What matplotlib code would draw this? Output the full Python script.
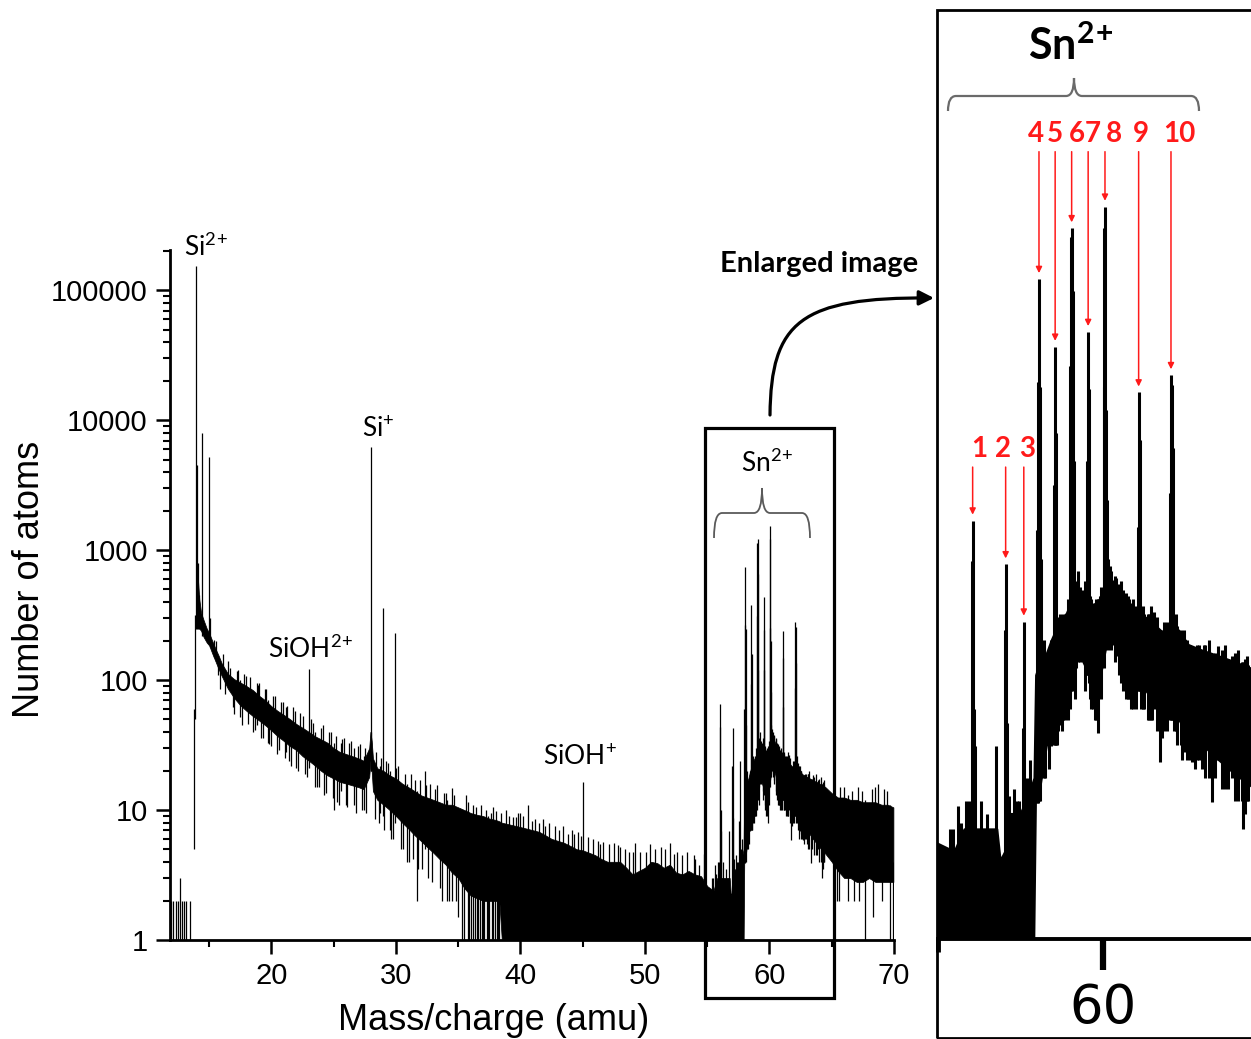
import numpy as np
import matplotlib
matplotlib.use("Agg")
import matplotlib.pyplot as plt
from matplotlib.patches import Rectangle, FancyArrowPatch, PathPatch
from matplotlib.path import Path

plt.rcParams["mathtext.default"] = "regular"

# ---------------------------------------------------------------------------
# Spectrum data (mass/charge in amu, counts)
# Background band of the mass spectrum: upper / lower edge of the noise
band_mz = [13.95, 14.05, 14.2, 14.35, 14.55, 14.8, 15.0, 15.25, 15.5, 15.75,
           16.0, 16.5, 17.0, 17.5, 18.0, 18.5, 19.0, 19.5, 20.0, 20.5,
           21.0, 21.5, 22.0, 22.5, 23.0, 23.5, 24.0, 24.5, 25.0, 25.5,
           26.0, 26.5, 27.0, 27.4, 27.85, 27.95, 28.05, 28.15, 28.5, 29.0,
           29.5, 30.0, 30.5, 31.0, 31.5, 32.0, 32.5, 33.0, 33.5, 34.0,
           34.5, 35.0, 35.5, 36.0, 36.5, 37.0, 37.5, 38.0, 38.3, 38.5,
           39.0, 39.5, 40.0, 40.5, 41.0, 41.5, 42.0, 42.5, 43.0, 43.5,
           44.0, 44.5, 45.0, 45.5, 46.0, 46.5, 47.0, 47.5, 48.0, 48.5,
           49.0, 49.5, 50.0, 50.5, 51.0, 51.5, 52.0, 52.5, 53.0, 53.5,
           54.0, 54.5, 55.0, 55.5, 55.8, 56.2, 56.8, 56.9, 57.1, 57.2,
           57.5, 57.75, 57.92, 57.97, 58.1, 58.3, 58.45, 58.7, 58.9, 59.2,
           59.4, 59.7, 59.9, 60.2, 60.45, 60.7, 60.95, 61.3, 61.6, 61.9,
           62.3, 62.6, 63.0, 63.5, 64.0, 64.5, 65.0, 65.5, 66.0, 66.5,
           67.0, 67.5, 68.0, 68.5, 69.0, 69.5, 69.95]
band_hi = [900, 700, 420, 330, 290, 250, 230, 200, 175, 155,
           135, 112, 102, 96, 90, 84, 76, 70, 63, 58,
           54, 50, 46, 43, 40, 37, 35, 33, 30, 28,
           27, 26, 25, 24, 30, 40, 34, 25, 21, 20,
           18.5, 17.5, 16, 15, 14, 13, 12.5, 12, 11.5, 11,
           11, 10.5, 10, 9.5, 9.2, 9, 8.6, 8.4, 8.2, 8,
           7.8, 7.6, 7.4, 7.2, 7, 6.8, 6.4, 6, 5.8, 5.6,
           5.3, 5, 4.9, 4.7, 4.5, 4.2, 4, 4, 4, 3.6,
           3.2, 3.4, 3.6, 4, 3.9, 3.6, 3.8, 3.3, 3.2, 3.4,
           3.2, 3.1, 2.6, 2.4, 3, 3, 3, 2.2, 2.5, 3.5,
           3.5, 4.2, 5, 14, 16, 17.5, 20, 24, 26, 33,
           32, 28, 30, 38, 33, 30, 27, 25, 23, 21,
           22, 19, 18, 17, 16, 15, 13.5, 12.5, 12.5, 12,
           12, 11.5, 11.5, 11.5, 11, 11, 10.5]
band_lo = [260, 260, 250, 240, 215, 195, 185, 160, 140, 122,
           108, 86, 73, 64, 58, 53, 49, 45, 41, 37,
           34, 31, 29, 26, 24, 22, 20, 18.5, 17.5, 16.5,
           16, 15.5, 15, 14.5, 18, 24, 20, 14, 12, 11,
           10, 9, 8, 7.2, 6.4, 5.8, 5.2, 4.7, 4.2, 3.8,
           3.3, 3, 2.5, 2.2, 2.1, 2, 2, 2, 2, 1,
           1, 1, 1, 1, 1, 1, 1, 1, 1, 1,
           1, 1, 1, 1, 1, 1, 1, 1, 1, 1,
           1, 1, 1, 1, 1, 1, 1, 1, 1, 1,
           1, 1, 1, 1, 1, 1, 1, 1, 1, 1,
           1, 1, 1, 3.9, 4.5, 6.9, 7.5, 9, 10.5, 17,
           16, 13, 13, 22, 19, 15, 12.5, 12, 10.5, 9.6,
           9, 7.5, 7, 6, 5.2, 4.6, 4, 3.4, 3, 3,
           2.8, 2.8, 3, 2.8, 2.8, 2.8, 2.8]

# Individual lines of the spectrum: position, lower end, upper end
spike_mz = [11.92, 12.13, 12.32, 12.48, 12.67, 12.81, 12.94, 13.16, 13.49,
            13.78, 13.85, 13.97, 14.01, 14.07, 14.2, 14.46, 14.97, 15.03,
            17.5, 18.8, 19.7, 21.2, 23.0, 23.5, 25.0, 25.6, 26.6, 27.4,
            27.96, 28.03, 28.7, 28.97, 29.5, 29.96, 30.9, 31.7, 32.3, 34.1,
            34.5, 35.9, 36.2, 36.6, 37.0, 37.4, 37.8, 38.1, 39.4, 40.6,
            43.4, 44.1, 45.06, 46.6, 47.5, 49.2, 49.6, 52.0, 53.4, 54.3,
            55.6,
            56.02, 56.05, 56.09, 56.12, 56.75,
            57.02, 57.05, 57.08,
            57.57, 57.6, 57.63,
            57.99, 58.03, 58.06, 58.09, 58.13,
            58.52, 58.55, 58.58,
            59.0, 59.03, 59.05, 59.08, 59.11,
            59.52, 59.55, 59.58,
            60.02, 60.04, 60.06, 60.09, 60.12,
            61.05, 61.08, 61.11,
            62.03, 62.06, 62.09, 62.12,
            58.42, 58.8, 59.36, 59.84, 60.7, 60.8, 61.35, 61.55, 61.73,
            62.45, 62.7, 63.06, 63.3, 63.5, 64.23,
            65.4, 66.3, 67.7, 68.75, 69.7]
spike_lo = [1, 1, 1, 1, 1, 1, 1, 1, 1,
            5, 50, 250, 250, 250, 250, 220, 190, 180,
            52, 45, 33, 28, 21, 15, 10, 14, 11, 10,
            20, 20, 9.5, 9, 7, 8, 4, 2, 5, 2,
            2, 1, 1, 1, 1, 1, 1, 1, 1, 1,
            1, 1, 1, 1, 1, 1, 1, 1, 1, 1,
            1,
            1, 1, 1, 1, 1,
            1, 1, 1,
            1, 1, 1,
            3.9, 3.9, 4, 4, 5,
            7, 7, 7,
            10, 12, 12, 14, 15,
            14, 14, 13,
            15, 18, 18, 20, 20,
            12, 12, 12,
            9, 9, 9, 9,
            6.9, 9, 17, 7.9, 11, 11, 9, 10, 5.9,
            6.9, 5.9, 7, 3.95, 6, 3,
            2, 2, 1, 3, 1]
spike_hi = [2, 2, 2, 2, 3, 2, 2, 2, 2,
            60, 320, 155000, 4500, 800, 450, 8000, 5200, 300,
            100, 95, 70, 62, 123, 40, 33, 33, 30, 26,
            6200, 40, 22, 360, 20, 230, 16, 14, 20, 12,
            14.8, 9, 11, 9, 8, 9, 10.6, 8, 8.8, 11,
            7.6, 7, 16.6, 5.7, 5.6, 5.6, 4.8, 5.6, 4.8, 3.8,
            3.8,
            44, 66, 10, 6.9, 6.9,
            22, 42.6, 8.7,
            8.3, 24, 4.9,
            60, 265, 741, 250, 45,
            94, 376, 158,
            310, 1130, 1232, 660, 120,
            120, 436, 245,
            252, 1232, 1528, 200, 81,
            62, 238, 148,
            87, 283, 256, 136,
            20, 26, 33, 30, 32, 30, 26, 26.5, 22,
            22, 17.7, 19, 17, 18.7, 16,
            12, 13, 12, 16, 11]

# Short noise excursions above and below the background band
noise_mz = [15.4, 15.55, 15.7, 15.9, 16.1, 16.3, 16.5, 16.7, 16.9, 17.0,
            17.2, 17.35, 17.65, 17.8, 17.95, 18.1, 18.3, 18.5, 18.7, 18.9,
            19.0, 19.15, 19.3, 19.45, 19.6, 19.8, 20.0, 20.15, 20.3, 20.45,
            20.6, 20.75, 20.9, 21.05, 21.25, 21.4, 21.55, 21.7, 21.85, 22.0,
            22.15, 22.3, 22.5, 22.7, 22.85, 23.2, 23.35, 23.65, 23.8, 23.95,
            24.1, 24.25, 24.4, 24.6, 24.8, 24.95, 25.15, 25.3, 25.45, 25.65,
            25.8, 25.95, 26.1, 26.25, 26.4, 26.8, 26.95, 27.1, 27.25, 27.5,
            27.6, 28.3, 28.4, 28.6, 28.8, 29.0, 29.2, 29.35, 29.6, 29.8,
            30.0, 30.2, 30.4, 30.6, 30.75, 31.05, 31.2, 31.4, 31.55, 31.8,
            31.9, 32.1, 32.45, 32.55, 32.7, 32.9, 33.1, 33.3, 33.5, 33.7,
            33.85, 34.0, 34.25, 34.65, 34.8, 35.0, 35.3, 35.6, 35.8, 36.4,
            36.8, 37.2, 37.6, 38.0, 38.4, 38.8, 39.1, 39.6, 39.8, 40.0,
            40.2, 40.9, 41.2, 41.5, 41.8, 42.0, 42.3, 42.8, 43.1, 43.8,
            44.3, 44.6, 44.9, 45.4, 45.8, 46.2, 46.4, 47.1, 47.8, 48.0,
            48.4, 48.7, 49.0, 50.1, 50.4, 50.8, 51.3, 51.6, 52.3, 52.6,
            53.0, 53.9, 54.0, 54.7,
            35.45, 35.75, 36.05, 36.35, 36.5, 36.75, 36.9, 37.1, 37.3, 37.5,
            37.7, 37.95, 38.2, 38.3,
            55.05, 55.15, 55.2, 55.3, 55.35, 55.45, 55.5, 55.7, 55.85, 55.95,
            56.3, 56.5, 56.85, 57.15, 57.3, 57.4, 57.45, 57.7, 57.8, 57.88,
            58.2, 58.25, 58.35, 58.62, 58.65, 58.7, 58.75, 58.85, 58.95, 59.15,
            59.18, 59.25, 59.3, 59.45, 59.48, 59.62, 59.65, 59.7, 59.75, 59.8,
            59.9, 59.95, 60.15, 60.2, 60.25, 60.3, 60.35, 60.4, 60.5, 60.55,
            60.6, 60.75, 60.85, 60.9, 61.0, 61.15, 61.2, 61.25, 61.4, 61.45,
            61.5, 61.65, 61.8, 61.85, 61.95, 62.15, 62.2, 62.25, 62.35, 62.4,
            62.5, 62.55, 62.65, 62.8, 62.85, 62.9, 63.0, 63.1, 63.2, 63.4,
            63.6, 63.7, 63.8, 63.9, 64.0, 64.1, 64.2, 64.3, 64.35, 64.4,
            65.2, 65.6, 65.7, 66.0, 66.6, 66.8, 67.1, 67.2, 67.4, 68.2,
            68.3, 68.5, 69.0, 69.2, 69.4, 69.9]
noise_lo = [150, 140, 110, 85, 110, 78, 95, 95, 62, 55,
            85, 80, 45, 70, 75, 46, 72, 40, 41, 62,
            62, 36, 36, 58, 56, 32, 31, 50, 52, 27,
            29, 45, 47, 25, 42, 24, 22, 42, 38, 21,
            20, 39, 35, 19, 18, 34, 30, 15, 15, 28,
            31, 13, 13.5, 26, 28, 12.5, 24, 11.5, 11, 22,
            24, 11, 10.5, 21, 23, 9.5, 20, 22, 10, 19,
            9.5, 8.5, 16, 8, 15, 7, 15, 14, 6, 6,
            13, 14, 5, 5, 11, 4, 12, 4.2, 10, 3.5,
            10.5, 3.5, 9, 3, 9.5, 2.8, 8.5, 9, 2.5, 2,
            8, 8.5, 2, 7.5, 2, 1.5, 1, 8.5, 6, 6,
            6.5, 6.5, 6, 5.5, 6, 6, 5.5, 5, 5.8, 5,
            5.6, 5, 5, 4.5, 5, 4.5, 4.8, 4.5, 4, 4,
            4, 3.8, 3.5, 3.5, 3.5, 3.4, 3, 3, 3, 3,
            3, 2.8, 2.8, 2.8, 2.8, 2.8, 2.8, 2.8, 2.5, 2.5,
            2.5, 2.5, 2.5, 2.5,
            1, 1, 1, 1, 1, 1, 1, 1, 1, 1,
            1, 1, 1, 1,
            1, 1, 1, 1, 1, 1, 1, 1, 1, 1,
            1, 1, 1, 1, 1, 1, 1, 1, 1, 1,
            5, 5, 5.5, 7, 8, 8.5, 8, 9, 9, 11,
            15, 16, 16, 12, 14, 11, 10, 10, 9, 9,
            12, 11, 18, 20, 18, 19, 16, 17, 14, 13,
            12, 11, 10, 10, 10, 10, 10, 10, 9, 9,
            9, 8, 7.5, 8, 8, 8, 8, 7, 7, 6,
            6.5, 6, 6, 5.5, 6, 6, 5.5, 5, 5, 5,
            4.5, 4.5, 4.5, 5, 4, 4, 4, 3.5, 4, 4,
            8, 2, 8, 7, 7, 2, 7, 2, 6, 6,
            1.5, 6, 2, 6, 6, 1]
noise_hi = [205, 200, 150, 135, 160, 120, 140, 125, 100, 85,
            118, 120, 75, 112, 108, 80, 105, 65, 70, 92,
            95, 58, 60, 86, 85, 52, 50, 76, 75, 46,
            45, 68, 68, 42, 63, 40, 38, 62, 58, 35,
            35, 56, 53, 32, 31, 50, 47, 27, 28, 43,
            45, 24, 26, 40, 40, 22, 37, 22, 21, 35,
            36, 20, 20, 33, 34, 18, 31, 32, 18, 30,
            18, 16, 28, 15, 25, 14, 24, 23, 12, 13,
            21, 22, 10, 11, 19, 9, 19, 9, 17, 7.5,
            17, 8, 15.5, 6.5, 16, 7, 14.5, 15.5, 5.5, 6,
            13.5, 13.5, 4.5, 13, 5, 4, 4, 13, 11.5, 10.5,
            11, 10, 9.5, 9.8, 9.5, 10, 9, 8.8, 9.5, 9.5,
            9, 8.2, 8.5, 8, 8.5, 7.6, 8, 7.5, 7, 6.5,
            6.5, 6.8, 6.3, 6.2, 6, 5.8, 5.5, 5.5, 5.4, 5.2,
            5, 4.8, 4.8, 4.8, 5.5, 5, 5.2, 5, 4.6, 4.8,
            4.5, 4.5, 4.2, 4.6,
            3, 2.5, 3, 2.5, 2.5, 3, 2.5, 2.5, 3, 2.5,
            2.5, 3, 2.5, 2.5,
            2, 2.2, 2, 2, 3, 3, 2, 3.2, 4, 4,
            4, 3.5, 2, 4.2, 4.5, 4, 4, 5, 6, 4.5,
            20, 15, 17, 20, 25, 26, 22, 24, 30, 35,
            36, 40, 34, 36, 30, 31, 30, 29, 28, 30,
            31, 34, 45, 42, 40, 36, 38, 37, 35, 36,
            33, 31, 29, 30, 28, 27, 28, 26, 26, 28,
            24, 25, 22, 24, 24, 25, 26, 23, 22, 21,
            20, 20, 19, 18.5, 19, 19, 18, 19, 20, 17.5,
            18, 19, 16.5, 17, 17.5, 18, 16, 16.5, 17, 15.5,
            16, 5, 15, 15, 14, 5, 15, 5, 14, 14.5,
            4, 15, 5, 14.5, 14, 4]

# Sn2+ isotope peaks marked in the enlarged view
sn_labels = ["1", "2", "3", "4", "5", "6", "7", "8", "9", "10"]
sn_mz = [56.05, 57.05, 57.6, 58.06, 58.55, 59.05, 59.55, 60.06, 61.08, 62.06]
sn_counts = [66, 42.6, 24, 741, 376, 1232, 436, 1528, 238, 283]

x_major = [20, 30, 40, 50, 60, 70]
x_minor = [15, 25, 35, 45, 55, 65]
y_major = [1, 10, 100, 1000, 10000, 100000]
y_labels = ["1", "10", "100", "1000", "10000", "100000"]

# ---------------------------------------------------------------------------
W, H = 1251, 1039
fig = plt.figure(figsize=(W / 100, H / 100), dpi=100)


def fx(px):
    return px / W


def fy(py):
    return 1 - py / H


def draw_spectrum(ax, lw):
    ax.fill_between(band_mz, band_lo, band_hi, color="k", lw=lw * 0.6,
                    edgecolor="k")
    ax.vlines(noise_mz, noise_lo, noise_hi, color="k", lw=lw)
    ax.vlines(spike_mz, spike_lo, spike_hi, color="k", lw=lw)


tick_font = "Liberation Sans"
note_font = "Lato"

# ---------------------------- main spectrum --------------------------------
ax = fig.add_axes([fx(170), fy(940), fx(894) - fx(170), fy(250) - fy(940)])
ax.set_yscale("log")
draw_spectrum(ax, 0.9)
ax.set_xlim(11.85, 70)
ax.set_ylim(1, 2.05e5)
ax.set_xticks(x_major)
ax.set_xticks(x_minor, minor=True)
ax.set_yticks(y_major)
ax.set_yticklabels(y_labels)
ax.yaxis.set_minor_locator(matplotlib.ticker.LogLocator(base=10, subs=np.arange(2, 10)))
ax.yaxis.set_minor_formatter(matplotlib.ticker.NullFormatter())
for s in ("top", "right"):
    ax.spines[s].set_visible(False)
for s in ("left", "bottom"):
    ax.spines[s].set_linewidth(2.0)
ax.tick_params(which="major", length=10, width=1.8, direction="out",
               labelsize=21, pad=6)
ax.tick_params(which="minor", length=5, width=1.5, direction="out")
for lab in ax.get_xticklabels() + ax.get_yticklabels():
    lab.set_family(tick_font)
ax.set_xlabel("Mass/charge (amu)", fontsize=26, family=tick_font)
ax.set_ylabel("Number of atoms", fontsize=26, family=tick_font)
ax.xaxis.set_label_coords(0.4475, -0.092)
ax.yaxis.set_label_coords(-0.17, 0.522)

# peak annotations
notes = [("Si$^{2}$$^{+}$", 206, 256), ("Si$^{+}$", 378, 437),
         ("SiOH$^{2}$$^{+}$", 311, 658), ("SiOH$^{+}$", 580, 765),
         ("Sn$^{2}$$^{+}$", 767, 472)]
for txt, px, py in notes:
    fig.text(fx(px), fy(py), txt, ha="center", va="baseline",
             fontsize=19, family=note_font)


def brace(x0, x1, xm, yb, yh, yt, r, color, lw):
    verts = [(x0, yb), (x0, yh), (x0 + r, yh),
             (xm - r, yh),
             (xm, yh), (xm, yt),
             (xm, yh), (xm + r, yh),
             (x1 - r, yh),
             (x1, yh), (x1, yb)]
    codes = [Path.MOVETO, Path.CURVE3, Path.CURVE3,
             Path.LINETO,
             Path.CURVE3, Path.CURVE3,
             Path.CURVE3, Path.CURVE3,
             Path.LINETO,
             Path.CURVE3, Path.CURVE3]
    pts = [(fx(a), fy(b)) for a, b in verts]
    fig.add_artist(PathPatch(Path(pts, codes), fill=False, ec=color, lw=lw,
                             transform=fig.transFigure))


brace(714, 810, 762, 538, 513, 488, 8, "#5a5a5a", 1.3)

# box around the tin region
fig.add_artist(Rectangle((fx(705), fy(998)), fx(834) - fx(705), fy(428) - fy(998),
                         fill=False, ec="k", lw=2.3, transform=fig.transFigure))

# curved arrow to the enlarged view
arrow_path = Path([(fx(770), fy(415)), (fx(771), fy(322)), (fx(800), fy(297)),
                   (fx(934), fy(298))],
                  [Path.MOVETO, Path.CURVE4, Path.CURVE4, Path.CURVE4])
fig.add_artist(FancyArrowPatch(path=arrow_path, arrowstyle="-|>",
                               mutation_scale=22, lw=2.3, color="k",
                               transform=fig.transFigure))
fig.text(fx(819), fy(272), "Enlarged image", ha="center", va="baseline",
         fontsize=21, fontweight="bold", family=note_font)

# ----------------------------- enlarged view -------------------------------
ax2 = fig.add_axes([fx(938), fy(939), fx(1251) - fx(938), fy(10) - fy(939)])
ax2.set_facecolor("none")
ax2.set_yscale("log")
draw_spectrum(ax2, 2.2)
ax2.set_xlim(55, 55 + 313 / 33)
ax2.set_ylim(1, 10 ** (929 / 230))
for s in ("top", "right", "left"):
    ax2.spines[s].set_visible(False)
ax2.spines["bottom"].set_linewidth(2.8)
ax2.set_yticks([])
ax2.yaxis.set_minor_locator(matplotlib.ticker.NullLocator())
ax2.set_xticks([60])
ax2.set_xticklabels(["60"])
ax2.set_xticks([55], minor=True)
ax2.tick_params(axis="x", which="major", length=22, width=4.5, labelsize=38,
                pad=9)
ax2.tick_params(axis="x", which="minor", length=9, width=3.5)
for lab in ax2.get_xticklabels():
    lab.set_family("DejaVu Sans")

# frame of the enlarged view
fig.add_artist(Rectangle((fx(936.5), fy(1038)), fx(1300) - fx(936.5),
                         fy(10) - fy(1038), fill=False, ec="k", lw=2.0,
                         transform=fig.transFigure, clip_on=False))

fig.text(fx(1071), fy(60), "Sn$^{2}$$^{+}$", ha="center", va="baseline",
         fontsize=31, fontweight="bold", family=note_font)
brace(948, 1199, 1074, 111, 96, 78, 8, "#6a6a6a", 1.6)

# red markers for the isotope peaks
label_px = [979, 1003, 1027, 1036, 1055, 1077, 1093, 1114, 1141, 1179]
for i, (lab, mz, c) in enumerate(zip(sn_labels, sn_mz, sn_counts)):
    start = 0.508 if i < 3 else 0.8475
    ax2.annotate("", xy=(mz, c * 1.06), xytext=(mz, start),
                 xycoords="data", textcoords=("data", "axes fraction"),
                 arrowprops=dict(arrowstyle="-|>", color="#ff1a1a", lw=1.1,
                                 mutation_scale=9, shrinkA=0, shrinkB=0))
    base = 457 if i < 3 else 142
    fig.text(fx(label_px[i]), fy(base), lab, ha="center", va="baseline",
             fontsize=20, fontweight="bold", color="#ff1a1a", family=note_font)

fig.savefig("out.png", dpi=100)
